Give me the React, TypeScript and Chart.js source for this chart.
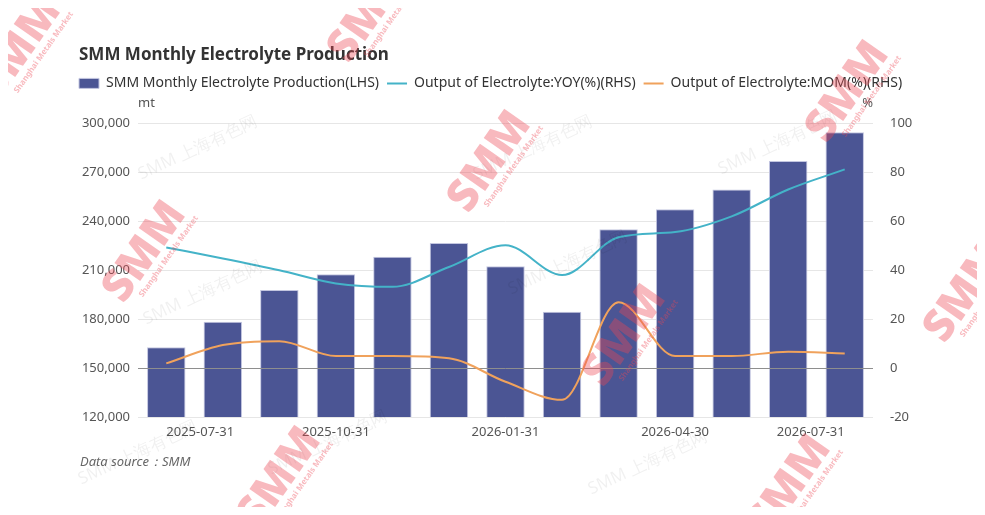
import { useEffect, useRef } from 'react';
import { Chart, registerables } from 'chart.js';

Chart.register(...registerables);

const FONT = '"Noto Sans", "Open Sans", sans-serif';

const categories = [
  '2025-07-31', '2025-08-31', '2025-09-30', '2025-10-31', '2025-11-30', '2025-12-31',
  '2026-01-31', '2026-02-28', '2026-03-31', '2026-04-30', '2026-05-31', '2026-06-30', '2026-07-31',
];
const shownDates = ['2025-07-31', '2025-10-31', '2026-01-31', '2026-04-30', '2026-07-31'];

// mt
const production = [162700, 178400, 197800, 207500, 218200, 226700, 212400, 184500, 235100, 247400, 259400, 276900, 294500];
// %
const yoy = [49.3, 44.8, 40, 34.6, 33.2, 41.3, 50.2, 38, 53.5, 55.6, 62, 73, 81.2];
const mom = [1.9, 9.4, 11, 4.9, 4.9, 4.0, -5.6, -13, 26.9, 4.9, 4.9, 6.7, 6.0];

const leftAxis = [120000, 300000, 30000]; // min, max, step
const rightAxis = [-20, 100, 20];

const BAR = '#4b5594';
const TEAL = '#44b3c8';
const ORANGE = '#f0a25c';

// watermark spots on the canvas
const logoSpots = [[12, 40], [362, 4], [482, 154], [137, 244], [617, 328], [840, 84], [958, 284], [272, 470], [782, 478]];
const textSpots = [[190, 140], [525, 140], [770, 135], [195, 285], [560, 255], [320, 435], [640, 455], [130, 445]];

export default function App() {
  const canvasRef = useRef<HTMLCanvasElement>(null);

  useEffect(() => {
    if (!canvasRef.current) return;

    // legend flush with the title, plus space under it
    const legendTweak = {
      id: 'legendTweak',
      beforeInit(chart: any) {
        const legend = chart.legend;
        if (!legend) return;
        const fit = legend.fit;
        legend.fit = function () {
          fit.call(this);
          this.height += 23;
        };
        const draw = legend.draw;
        legend.draw = function () {
          const ctx = this.ctx;
          ctx.save();
          ctx.translate(-8, 0);
          draw.call(this);
          ctx.restore();
        };
      },
    };

    // zero line of the right axis, over the bars
    const zeroLine = {
      id: 'zeroLine',
      afterDatasetDraw(chart: any, args: any) {
        if (args.index !== 0) return;
        const { ctx, chartArea } = chart;
        const y = Math.round(chart.scales.y1.getPixelForValue(0)) + 0.5;
        ctx.save();
        ctx.strokeStyle = '#8e8e8e';
        ctx.lineWidth = 1;
        ctx.beginPath();
        ctx.moveTo(chartArea.left, y);
        ctx.lineTo(chartArea.right, y);
        ctx.stroke();
        ctx.restore();
      },
    };

    const extras = {
      id: 'extras',
      afterDraw(chart: any) {
        const { ctx, chartArea } = chart;
        const xs = chart.scales.x;
        ctx.save();
        ctx.font = `13px ${FONT}`;
        ctx.fillStyle = '#555';
        ctx.textBaseline = 'middle';
        categories.forEach((c, i) => {
          if (!shownDates.includes(c)) return;
          ctx.textAlign = i === 0 ? 'left' : i === categories.length - 1 ? 'right' : 'center';
          ctx.fillText(c, xs.getPixelForValue(i), chartArea.bottom + 15);
        });
        ctx.textAlign = 'left';
        ctx.fillText('mt', chartArea.left, chartArea.top - 20);
        ctx.textAlign = 'right';
        ctx.fillText('%', chartArea.right, chartArea.top - 20);
        ctx.textAlign = 'left';
        ctx.font = `italic 13px ${FONT}`;
        ctx.fillStyle = '#666';
        ctx.fillText('Data source：SMM', 72, 454);

        // watermarks
        ctx.textAlign = 'center';
        textSpots.forEach(([x, y]) => {
          ctx.save();
          ctx.translate(x, y);
          ctx.rotate(-25 * Math.PI / 180);
          ctx.font = `17px ${FONT}`;
          ctx.fillStyle = 'rgba(0,0,0,0.06)';
          ctx.fillText('SMM 上海有色网', 0, 0);
          ctx.restore();
        });
        logoSpots.forEach(([x, y]) => {
          ctx.save();
          ctx.translate(x, y);
          ctx.rotate(-55 * Math.PI / 180);
          ctx.fillStyle = 'rgba(236,72,84,0.38)';
          ctx.font = `900 44px ${FONT}`;
          ctx.fillText('SMM', 0, 0);
          ctx.font = `bold 8px ${FONT}`;
          ctx.fillText('Shanghai Metals Market', 10, 22);
          ctx.restore();
        });
        ctx.restore();
      },
    };

    const chart = new Chart(canvasRef.current, {
      type: 'bar',
      data: {
        labels: categories,
        datasets: [
          {
            type: 'bar',
            label: 'SMM Monthly Electrolyte Production(LHS)',
            data: production,
            backgroundColor: BAR,
            borderColor: '#c3c6e0',
            borderWidth: 1,
            barPercentage: 0.68,
            categoryPercentage: 1,
            yAxisID: 'y',
            pointStyle: 'rect',
            order: 2,
          },
          {
            type: 'line',
            label: 'Output of Electrolyte:YOY(%)(RHS)',
            data: yoy,
            borderColor: TEAL,
            backgroundColor: TEAL,
            borderWidth: 2,
            pointRadius: 0,
            pointStyle: 'line',
            pointBorderColor: TEAL,
            pointBorderWidth: 2,
            cubicInterpolationMode: 'monotone',
            yAxisID: 'y1',
            order: 1,
          },
          {
            type: 'line',
            label: 'Output of Electrolyte:MOM(%)(RHS)',
            data: mom,
            borderColor: ORANGE,
            backgroundColor: ORANGE,
            borderWidth: 2,
            pointRadius: 0,
            pointStyle: 'line',
            pointBorderColor: ORANGE,
            pointBorderWidth: 2,
            cubicInterpolationMode: 'monotone',
            yAxisID: 'y1',
            order: 0,
          },
        ],
      },
      options: {
        animation: false,
        responsive: true,
        maintainAspectRatio: false,
        layout: { padding: { left: 71, right: 34, top: 37, bottom: 60 } },
        scales: {
          x: {
            grid: { display: false },
            border: { display: false },
            ticks: { display: false },
            afterFit: (s: any) => { s.height = 30; },
          },
          y: {
            min: leftAxis[0],
            max: leftAxis[1],
            grid: { color: '#e6e6e6', drawTicks: false },
            border: { display: false },
            ticks: {
              stepSize: leftAxis[2],
              padding: 8,
              color: '#555',
              font: { family: FONT, size: 13 },
              callback: (v: any) => Number(v).toLocaleString('en-US'),
            },
            afterFit: (s: any) => { s.width = 59; },
          },
          y1: {
            position: 'right',
            min: rightAxis[0],
            max: rightAxis[1],
            grid: { display: false },
            border: { display: false },
            ticks: {
              stepSize: rightAxis[2],
              padding: 9,
              color: '#555',
              font: { family: FONT, size: 13 },
            },
            afterFit: (s: any) => { s.width = 70; },
          },
        },
        plugins: {
          title: {
            display: true,
            text: 'SMM Monthly Electrolyte Production',
            align: 'start',
            color: '#333',
            font: { family: FONT, size: 17, weight: 'bold' },
            padding: { top: 0, bottom: 3 },
          },
          legend: {
            align: 'start',
            labels: {
              usePointStyle: true,
              pointStyleWidth: 20,
              boxHeight: 10,
              padding: 8,
              color: '#333',
              font: { family: FONT, size: 14 },
              sort: (a: any, b: any) => a.datasetIndex - b.datasetIndex,
            },
          },
          tooltip: { enabled: false },
        },
      },
      plugins: [legendTweak, zeroLine, extras],
    } as any);

    return () => chart.destroy();
  }, []);

  return (
    <div style={{ position: 'relative', width: 969, height: 499 }}>
      <canvas ref={canvasRef} />
    </div>
  );
}
